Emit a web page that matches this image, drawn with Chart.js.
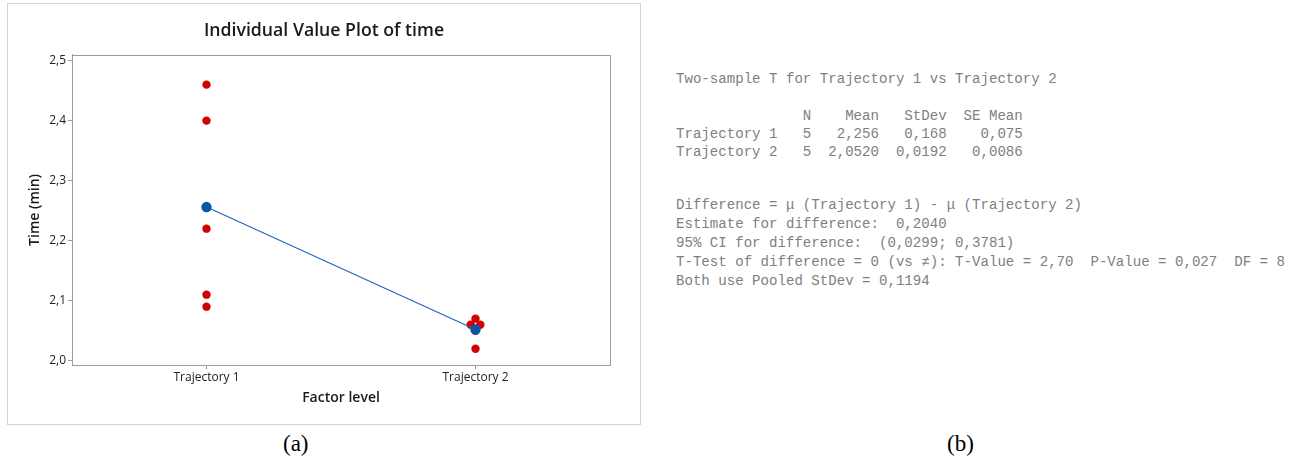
<!DOCTYPE html>
<html><head><meta charset="utf-8">
<script src="https://cdn.jsdelivr.net/npm/chart.js@4.4.1/dist/chart.umd.min.js"></script>
<style>
html,body{margin:0;padding:0;background:#fff;width:1290px;height:457px;overflow:hidden;position:relative;}
#panelA{position:absolute;left:7px;top:3px;width:632px;height:420px;border:1px solid #d3d3d3;}
#panelA canvas{display:block;}
.cap{position:absolute;font-family:"Liberation Serif",serif;font-size:23px;color:#000;line-height:24px;top:432px;}
#out{position:absolute;left:676px;top:0;font-family:"Liberation Mono",monospace;font-size:14.1px;color:#808080;}
#out div{position:absolute;left:0;white-space:pre;line-height:16px;}
</style>
</head><body>
<div id="panelA"><canvas id="c" width="632" height="420"></canvas></div>
<div class="cap" style="left:283px">(a)</div>
<div class="cap" style="left:947px">(b)</div>
<div id="out">
<div style="top:71px">Two-sample T for Trajectory 1 vs Trajectory 2</div>
<div style="top:108px">               N    Mean   StDev  SE Mean</div>
<div style="top:126px">Trajectory 1   5   2,256   0,168    0,075</div>
<div style="top:144px">Trajectory 2   5  2,0520  0,0192   0,0086</div>
<div style="top:197px">Difference = μ (Trajectory 1) - μ (Trajectory 2)</div>
<div style="top:216px">Estimate for difference:  0,2040</div>
<div style="top:235px">95% CI for difference:  (0,0299; 0,3781)</div>
<div style="top:254px">T-Test of difference = 0 (vs ≠): T-Value = 2,70  P-Value = 0,027  DF = 8</div>
<div style="top:273px">Both use Pooled StDev = 0,1194</div>
</div>
<script>
// ---- data ----
const categories = ['Trajectory 1', 'Trajectory 2'];
const trajectory1Times = [2.46, 2.40, 2.22, 2.11, 2.09];
const trajectory2Times = [2.07, 2.06, 2.06, 2.05, 2.02];
const groupMeans = [2.256, 2.052];
const yTickValues = [2.0, 2.1, 2.2, 2.3, 2.4, 2.5];
const yTickLabels = ['2,0', '2,1', '2,2', '2,3', '2,4', '2,5'];

// ---- style / layout ----
const yRange = [1.9928, 2.5095];
const xRange = [0.5, 2.5];
const jitter1 = [0, 0, 0, 0, 0];
const jitter2 = [0, -0.018, 0.018, 0, 0];
const AXIS = '#9c9c9c';
const FONT = '"Open Sans", sans-serif';

const groups = [trajectory1Times, trajectory2Times];
const jitters = [jitter1, jitter2];
const individualPoints = [];
groups.forEach((g, gi) => g.forEach((v, i) => individualPoints.push({x: gi + 1 + jitters[gi][i], y: v})));
const meanPoints = groupMeans.map((v, i) => ({x: i + 1, y: v}));

const framePlugin = {
  id: 'frame',
  beforeDatasetsDraw(chart) {
    const {ctx, chartArea: a} = chart;
    ctx.save();
    ctx.strokeStyle = AXIS;
    ctx.lineWidth = 1;
    ctx.strokeRect(Math.round(a.left) + 0.5, Math.round(a.top) + 0.5, Math.round(a.right - a.left), Math.round(a.bottom - a.top));
    ctx.restore();
  }
};

Chart.defaults.font.family = FONT;
new Chart(document.getElementById('c'), {
  type: 'scatter',
  data: {
    datasets: [
      {
        label: 'Mean', data: meanPoints, showLine: true, order: 0,
        borderColor: '#1f66bd', borderWidth: 1.2,
        pointRadius: 5.2, pointBackgroundColor: '#0a55a8', pointBorderColor: '#0a55a8', pointBorderWidth: 0
      },
      {
        label: 'time', data: individualPoints, order: 1,
        pointRadius: 4.2, pointBackgroundColor: '#d20000', pointBorderColor: '#d20000', pointBorderWidth: 0
      }
    ]
  },
  options: {
    responsive: false, animation: false,
    layout: {padding: 0},
    plugins: {
      legend: {display: false}, tooltip: {enabled: false},
      title: {
        display: true, text: 'Individual Value Plot of time', color: '#1a1a1a',
        font: {family: FONT, size: 17.7, weight: '600'}, padding: {top: 16.1, bottom: 13.6}
      }
    },
    scales: {
      x: {
        type: 'linear', min: xRange[0], max: xRange[1],
        afterBuildTicks: s => { s.ticks = categories.map((c, i) => ({value: i + 1})); },
        afterFit: s => { s.height = 59; },
        ticks: {callback: (v, i) => categories[i], color: '#222', font: {size: 12}, padding: 1, maxRotation: 0},
        grid: {drawOnChartArea: false, drawTicks: true, tickLength: 4, color: AXIS},
        border: {display: true, color: AXIS},
        title: {display: true, text: 'Factor level', color: '#1a1a1a', font: {size: 14, weight: '600'}, padding: {bottom: 17.9}}
      },
      y: {
        type: 'linear', min: yRange[0], max: yRange[1],
        afterBuildTicks: s => { s.ticks = yTickValues.map(v => ({value: v})); },
        afterFit: s => { s.width = 64; },
        ticks: {callback: (v, i) => yTickLabels[i], color: '#222', font: {size: 12}, padding: 2},
        grid: {drawOnChartArea: false, drawTicks: true, tickLength: 4, color: AXIS},
        border: {display: true, color: AXIS},
        title: {display: true, text: 'Time (min)', color: '#1a1a1a', font: {size: 14, weight: '600'}, padding: {top: 18.6}}
      },
      yRight: {
        type: 'linear', position: 'right', min: yRange[0], max: yRange[1],
        afterFit: s => { s.width = 30; },
        ticks: {display: false},
        grid: {display: false, drawTicks: false},
        border: {display: false}
      }
    }
  },
  plugins: [framePlugin]
});
</script>
</body></html>
